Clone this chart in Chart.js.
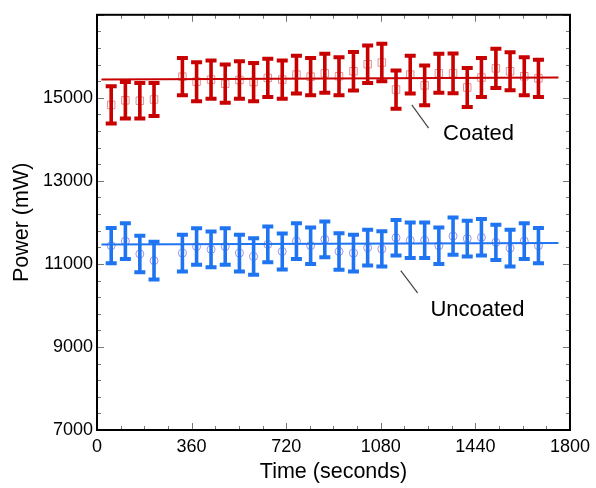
<!DOCTYPE html>
<html>
<head>
<meta charset="utf-8">
<style>
  html, body { margin: 0; padding: 0; background: #fff; }
  #chart { display: block; }
</style>
</head>
<body>
<canvas id="chart" width="596" height="488"></canvas>
<script src="https://cdn.jsdelivr.net/npm/chart.js@4.4.1/dist/chart.umd.min.js"></script>
<script>
// sample times (s)
const times = [54, 108, 163, 217, 325, 379, 434, 488, 542, 596, 650, 705, 759, 813, 867,
  921, 976, 1030, 1084, 1138, 1192, 1247, 1301, 1355, 1409, 1463, 1518, 1572, 1626, 1680];

const coatedMean = [14830, 14940, 14930, 14960, 15510, 15390, 15440, 15340, 15430, 15380,
  15480, 15440, 15560, 15510, 15590, 15520, 15640, 15810, 15850, 15200,
  15560, 15300, 15590, 15590, 15250, 15490, 15710, 15640, 15520, 15470];
const coatedErr = [450, 440, 430, 400, 450, 470, 460, 460, 450, 460,
  460, 460, 455, 450, 470, 460, 465, 450, 450, 460,
  455, 480, 470, 480, 470, 470, 470, 460, 460, 450];

const uncoatedMean = [11440, 11550, 11240, 11080, 11260, 11420, 11350, 11420, 11260, 11180,
  11470, 11300, 11550, 11440, 11590, 11300, 11260, 11390, 11360, 11630,
  11570, 11570, 11440, 11670, 11610, 11640, 11520, 11380, 11550, 11440];
const uncoatedErr = [425, 430, 440, 455, 440, 440, 430, 440, 440, 440,
  430, 435, 430, 440, 430, 440, 445, 430, 425, 430,
  430, 430, 440, 450, 430, 440, 425, 440, 430, 425];

// linear fits
const coatedFit = [{x: 17, y: 15440}, {x: 1756, y: 15490}];
const uncoatedFit = [{x: 17, y: 11465}, {x: 1756, y: 11505}];

const xTickStep = 360, xMinorStep = 90;
const yTickStep = 2000, yMinorStep = 400;

const RED = '#c80000';
const BLUE = '#1f74f2';
const FONT = '"Liberation Sans", Arial, sans-serif';

const labels = [
  {text: 'Coated', x: 1452, y: 14130, from: {x: 1198, y: 14830}, to: {x: 1262, y: 14270}},
  {text: 'Uncoated', x: 1448, y: 9900, from: {x: 1156, y: 10840}, to: {x: 1220, y: 10300}}
];

const errorBars = {
  id: 'errorBars',
  afterDatasetsDraw(chart) {
    const {ctx, scales: {x, y}} = chart;
    const groups = [
      {means: coatedMean, errs: coatedErr, color: RED},
      {means: uncoatedMean, errs: uncoatedErr, color: BLUE}
    ];
    ctx.save();
    groups.forEach(g => {
      ctx.strokeStyle = g.color;
      times.forEach((t, i) => {
        const px = x.getPixelForValue(t);
        const top = y.getPixelForValue(g.means[i] + g.errs[i]);
        const bot = y.getPixelForValue(g.means[i] - g.errs[i]);
        ctx.lineWidth = 3.6;
        ctx.beginPath();
        ctx.moveTo(px, top);
        ctx.lineTo(px, bot);
        ctx.stroke();
        ctx.lineWidth = 4;
        ctx.beginPath();
        ctx.moveTo(px - 5.5, top);
        ctx.lineTo(px + 5.5, top);
        ctx.moveTo(px - 5.5, bot);
        ctx.lineTo(px + 5.5, bot);
        ctx.stroke();
      });
    });
    ctx.restore();
  }
};

const frame = {
  id: 'frame',
  afterDraw(chart) {
    const {ctx, chartArea: a, scales: {x, y}} = chart;
    const seg = (x1, y1, x2, y2) => {
      ctx.beginPath(); ctx.moveTo(x1, y1); ctx.lineTo(x2, y2); ctx.stroke();
    };
    ctx.save();
    ctx.strokeStyle = '#777';
    ctx.lineWidth = 1;
    for (let v = x.min; v <= x.max; v += xMinorStep) {
      const px = Math.round(x.getPixelForValue(v)) + 0.5;
      const len = v % xTickStep === 0 ? 7 : 4;
      seg(px, a.bottom, px, a.bottom - len);
      seg(px, a.top, px, a.top + len);
    }
    for (let v = y.min; v <= y.max; v += yMinorStep) {
      const py = Math.round(y.getPixelForValue(v)) + 0.5;
      const len = (v - y.min) % yTickStep === 0 ? 7 : 4;
      seg(a.left, py, a.left + len, py);
      seg(a.right, py, a.right - len, py);
    }
    ctx.strokeStyle = '#000';
    ctx.lineWidth = 2;
    ctx.strokeRect(a.left, a.top, a.width, a.height);

    // callouts
    ctx.fillStyle = '#000';
    ctx.font = '22px ' + FONT;
    ctx.textAlign = 'center';
    ctx.textBaseline = 'middle';
    ctx.strokeStyle = '#444';
    ctx.lineWidth = 1.2;
    labels.forEach(l => {
      seg(x.getPixelForValue(l.from.x), y.getPixelForValue(l.from.y),
          x.getPixelForValue(l.to.x), y.getPixelForValue(l.to.y));
      ctx.fillText(l.text, x.getPixelForValue(l.x), y.getPixelForValue(l.y));
    });
    ctx.restore();
  }
};

const points = means => times.map((t, i) => ({x: t, y: means[i]}));

new Chart(document.getElementById('chart'), {
  type: 'scatter',
  data: {
    datasets: [
      {
        type: 'line',
        data: coatedFit,
        borderColor: RED,
        borderWidth: 2,
        pointRadius: 0
      },
      {
        type: 'line',
        data: uncoatedFit,
        borderColor: BLUE,
        borderWidth: 2,
        pointRadius: 0
      },
      {
        data: points(coatedMean),
        pointStyle: 'rect',
        pointRadius: 5.3,
        borderWidth: 1,
        borderColor: 'rgba(215,110,110,0.75)',
        backgroundColor: 'transparent'
      },
      {
        data: points(uncoatedMean),
        pointStyle: 'circle',
        pointRadius: 4,
        borderWidth: 1,
        borderColor: 'rgba(130,110,220,0.75)',
        backgroundColor: 'transparent'
      }
    ]
  },
  options: {
    responsive: false,
    animation: false,
    layout: { padding: { top: 13, right: 25, left: 0, bottom: 0 } },
    plugins: {
      legend: { display: false },
      tooltip: { enabled: false }
    },
    scales: {
      x: {
        type: 'linear',
        min: 0,
        max: 1800,
        grid: { display: false, drawTicks: false },
        border: { display: false },
        ticks: {
          stepSize: xTickStep,
          color: '#000',
          padding: 6,
          maxRotation: 0,
          font: { family: FONT, size: 18 },
          callback: v => String(v)
        },
        title: {
          display: true,
          text: 'Time (seconds)',
          color: '#000',
          font: { family: FONT, size: 21.5 },
          padding: { top: 0, bottom: 3 }
        },
        afterFit(scale) { scale.height = 58; }
      },
      y: {
        min: 7000,
        max: 17000,
        grid: { display: false, drawTicks: false },
        border: { display: false },
        ticks: {
          stepSize: yTickStep,
          color: '#000',
          padding: 4,
          font: { family: FONT, size: 18 },
          callback: v => (v === 17000 ? '' : String(v))
        },
        title: {
          display: true,
          text: 'Power (mW)',
          color: '#000',
          font: { family: FONT, size: 21.5 },
          padding: { top: 9, bottom: 0 }
        },
        afterFit(scale) { scale.width = 97; }
      }
    }
  },
  plugins: [errorBars, frame]
});
</script>
</body>
</html>
